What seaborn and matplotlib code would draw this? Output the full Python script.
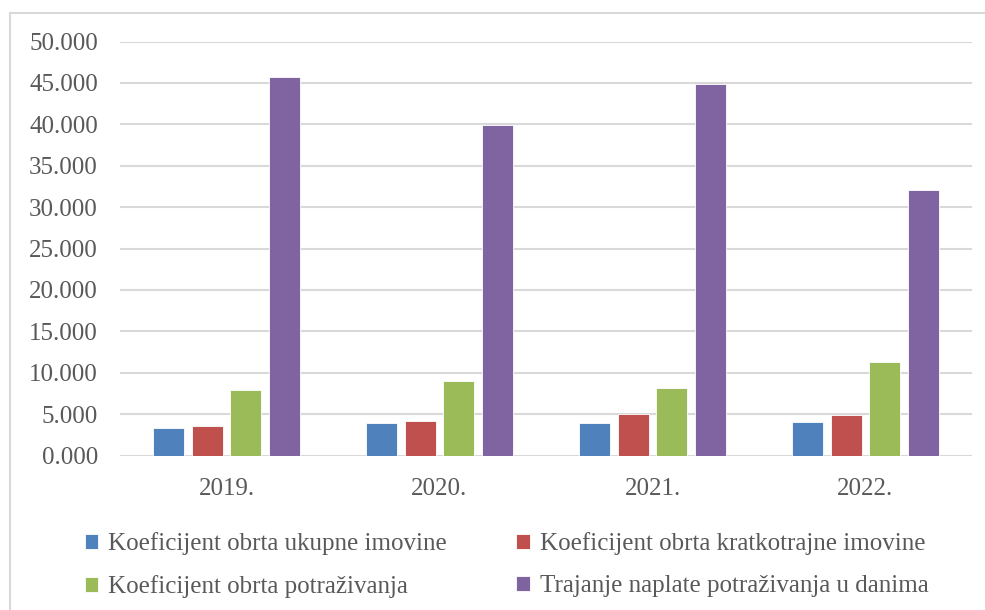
import matplotlib
matplotlib.use("Agg")
import matplotlib.pyplot as plt
import matplotlib.lines as mlines
import numpy as np
import pandas as pd
import seaborn as sns

# values
years = ["2019.", "2020.", "2021.", "2022."]
ukupne = [3.28, 3.89, 3.96, 4.05]
kratkotrajne = [3.52, 4.17, 5.05, 4.85]
potrazivanja = [7.91, 9.03, 8.11, 11.29]
trajanje = [45.75, 39.88, 44.87, 32.10]

series_names = [
    "Koeficijent obrta ukupne imovine",
    "Koeficijent obrta kratkotrajne imovine",
    "Koeficijent obrta potraživanja",
    "Trajanje naplate potraživanja u danima",
]
colors = ["#4F81BD", "#C0504D", "#9BBB59", "#8064A2"]

df = pd.DataFrame({
    "year": years * 4,
    "value": ukupne + kratkotrajne + potrazivanja + trajanje,
    "series": [n for n in series_names for _ in years],
})

sns.set_style("white")
plt.rcParams["font.family"] = ["Liberation Serif", "DejaVu Serif"]
text_color = "#595959"
grid_color = "#D9D9D9"

fig = plt.figure(figsize=(9.85, 6.1), dpi=100)
ax = fig.add_axes([120 / 985, 154.5 / 610, 852 / 985, 414 / 610])

sns.barplot(data=df, x="year", y="value", hue="series", hue_order=series_names,
            palette=colors, saturation=1, width=0.723, gap=0.2,
            edgecolor="white", linewidth=0.6, ax=ax, legend=True)

ax.set_ylim(0, 50)
ax.set_xlim(-0.5, 3.5)
ax.set_yticks(np.arange(0, 50.1, 5))
ax.set_yticklabels([f"{v:.3f}" for v in np.arange(0, 50.1, 5)])
ax.yaxis.grid(True, color=grid_color, linewidth=1.5)
ax.set_axisbelow(True)
for s in ax.spines.values():
    s.set_visible(False)
ax.tick_params(axis="both", length=0, labelsize=18, labelcolor=text_color)
ax.tick_params(axis="y", pad=16)
ax.tick_params(axis="x", pad=16)
ax.set_xlabel("")
ax.set_ylabel("")

# legend: two rows, two columns, small square markers
handles, labels = ax.get_legend_handles_labels()
ax.get_legend().remove()
order = [0, 2, 1, 3]
leg = fig.legend([handles[i] for i in order], [labels[i] for i in order],
                 ncol=2, loc="upper left", bbox_to_anchor=(62 / 985, 1 - 510 / 610),
                 frameon=False, fontsize=18, labelcolor=text_color,
                 handlelength=0.55, handleheight=0.55, handletextpad=0.4,
                 columnspacing=2.75, labelspacing=0.8)

# chart area border (left and top edges visible)
fig.add_artist(mlines.Line2D([9.5 / 985, 9.5 / 985], [0, 1 - 12.5 / 610],
                             color=grid_color, linewidth=1.5, transform=fig.transFigure))
fig.add_artist(mlines.Line2D([9.5 / 985, 1], [1 - 12.5 / 610, 1 - 12.5 / 610],
                             color=grid_color, linewidth=1.5, transform=fig.transFigure))

fig.savefig("out.png", dpi=100)
